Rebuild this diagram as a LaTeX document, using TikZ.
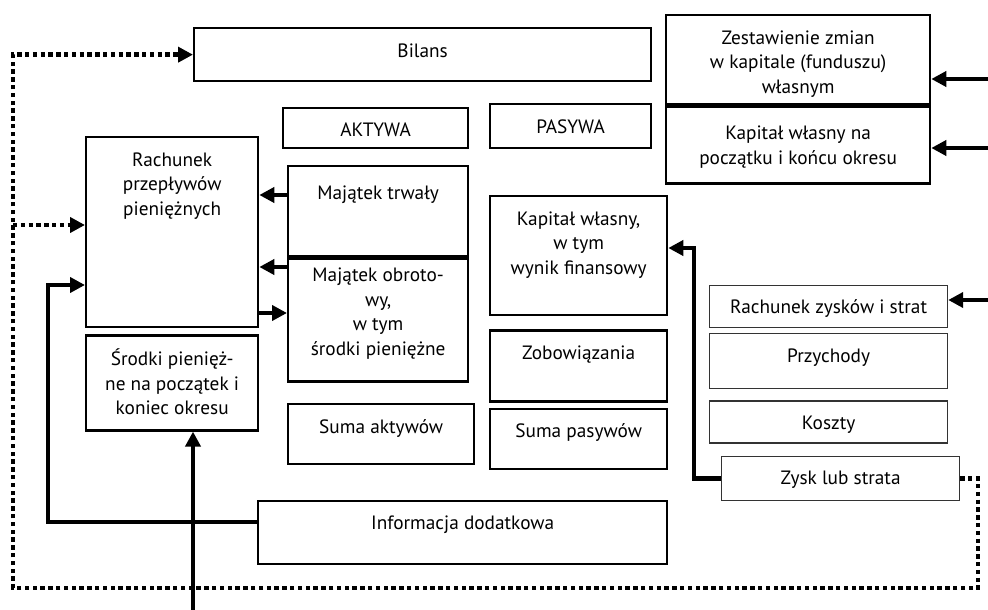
\documentclass[tikz,border=0pt]{standalone}
\usepackage{fontspec}
\setmainfont{PT Sans}
\usetikzlibrary{positioning,arrows.meta}
\tikzstyle{box} = [draw, line width=2.3pt, inner sep=0pt, anchor=north west]
\tikzstyle{boxt} = [draw=black!80, line width=1.2pt, inner sep=0pt, anchor=north west]
\tikzstyle{arr} = [->, line width=4.4pt]
\tikzstyle{dots} = [line width=4.4pt, dash pattern=on 4.4pt off 3.4pt]
\newcommand{\boxtxt}[4][12]{\parbox[c][#3pt][t]{#2pt}{\centering\vspace*{#1pt}\strut #4}}

\begin{document}
\begin{tikzpicture}[x=1pt,y=-1pt,>={Triangle[length=15pt,width=15pt]},font=\fontsize{19.3}{24.5}\selectfont]
	\useasboundingbox (0,0) rectangle (988,610);
	% balance sheet
	\node (bil) [box] at (193,27) {\boxtxt{457}{53}{Bilans}};
	\node (akt) [box] at (282,107) {\boxtxt[11]{185}{40}{AKTYWA}};
	\node (pas) [box] at (489,103) {\boxtxt{161}{44}{PASYWA}};
	\node (mt) [box] at (287,165) {\boxtxt[16]{180}{90}{Majątek trwały}};
	\node (mo) [box, below=0pt of mt] {\boxtxt[6]{180}{123}{Majątek obroto-\\wy,\\w tym\\środki pieniężne}};
	\node (sa) [box] at (287,403) {\boxtxt{186}{60}{Suma aktywów}};
	\node (kw) [box] at (489,195) {\boxtxt{177}{119}{Kapitał własny,\\w tym\\wynik finansowy}};
	\node (zob) [box, below=13pt of kw] {\boxtxt{177}{71}{Zobowiązania}};
	\node (spa) [box, below=5pt of zob] {\boxtxt{177}{60}{Suma pasywów}};
	% cash flow
	\node (rp) [box] at (85,136) {\boxtxt{172}{190}{Rachunek\\przepływów\\pieniężnych}};
	\node (sp) [box, below=6pt of rp] {\boxtxt[13]{172}{95}{Środki pienięż-\\ne na początek i\\koniec okresu}};
	\node (inf) [box] at (257,500) {\boxtxt[11]{409}{63}{Informacja dodatkowa}};
	% equity
	\node (ze) [box] at (665,14) {\boxtxt{264}{89}{Zestawienie zmian\\w kapitale (funduszu)\\własnym}};
	\node (kp) [box, fill=white, below=0pt of ze] {\boxtxt[16]{264}{77}{Kapitał własny na\\początku i końcu okresu}};
	% profit and loss
	\node (rz) [boxt] at (709,285) {\boxtxt[11]{238}{42}{Rachunek zysków i strat}};
	\node (prz) [boxt, below=5pt of rz] {\boxtxt{238}{55}{Przychody}};
	\node (ko) [boxt, below=11pt of prz] {\boxtxt[11]{238}{42}{Koszty}};
	\node (zs) [boxt] at (721,456) {\boxtxt[11]{238}{44}{Zysk lub strata}};

	\coordinate (dl) at (13,225);
	\coordinate (src) at (193,610);
	\coordinate (e1) at (988,79);
	\coordinate (e2) at (988,148);
	\coordinate (e3) at (988,300);

	\draw [dots,->] (zs.east) -- ++(18,0) |- (13,588) |- (bil.west);
	\draw [dots,->] (dl) -- (rp.west |- dl);

	\draw [arr] (inf.west |- 0,522) -| (48,285) -- (rp.west |- 0,285);
	\draw [arr] (src) -- (sp.south -| src);
	\draw [arr] (mt.west |- 0,195) -- (rp.east |- 0,195);
	\draw [arr] (mo.west |- 0,267) -- (rp.east |- 0,267);
	\draw [arr] (rp.east |- 0,313) -- (mo.west |- 0,313);
	\draw [arr] (zs.west) -| (694,248) -- (kw.east |- 0,248);

	\draw [arr] (e1) -- (ze.east |- e1);
	\draw [arr] (e2) -- (kp.east |- e2);
	\draw [arr] (e3) -- (rz.east |- e3);
\end{tikzpicture}
\end{document}
